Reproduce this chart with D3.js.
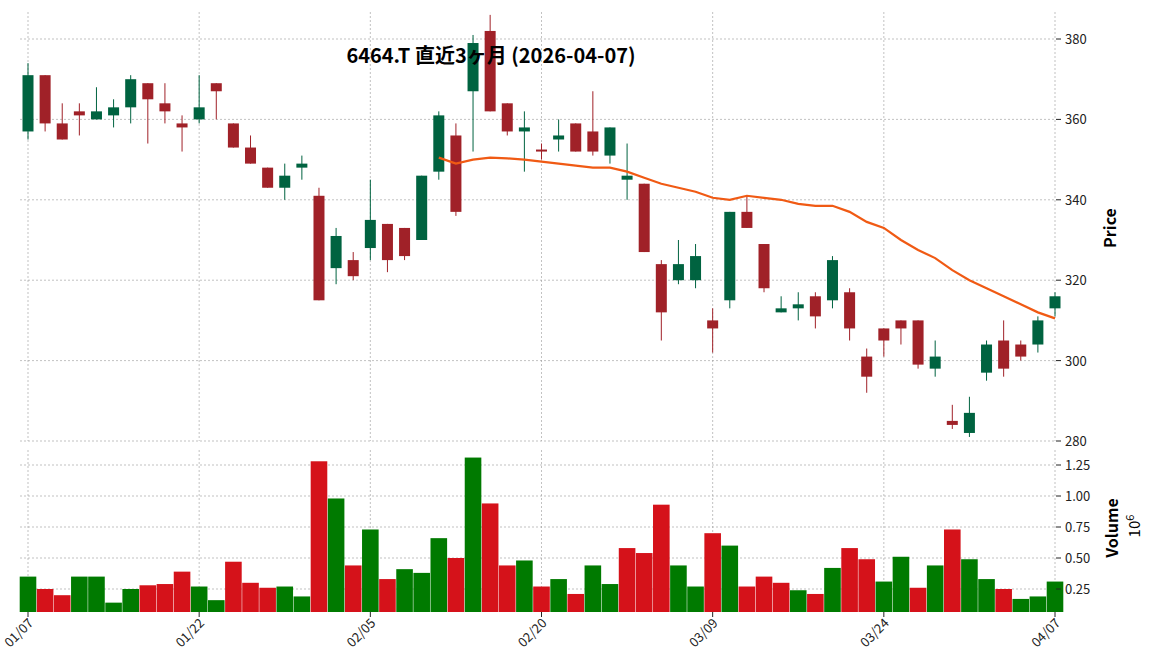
<!DOCTYPE html>
<html><head><meta charset="utf-8">
<script src="https://cdn.jsdelivr.net/npm/d3@7"></script>
<style>body{margin:0;background:#fff}text{font-family:"Noto Sans CJK JP","Noto Sans",sans-serif}</style>
</head><body>
<script>
// trading days 01/07 .. 04/07 (index of each tick label)
var tickIdx = [0, 10, 20, 30, 40, 50, 60];
var tickLabels = ["01/07", "01/22", "02/05", "02/20", "03/09", "03/24", "04/07"];
var opens  = [357,371,359,362,360,361,363,369,364,359,360,369,359,353,348,343,348,341,323,325,328,334,333,330,347,356,367,382,364,357,352.5,355,359,357,351,345,344,324,320,320,310,315,337,329,312,313,316,315,317,301,308,310,310,298,285,282,297,305,304,304,313];
var highs  = [374,371,364,364,368,365,371,369,369,361,371,369,359,356,348,349,351,343,333,327,345,334,333,346,362,359,381,386,364,362,354,360,359,367,358,354,344,325,330,329,313,337,341,329,316,317,317,326,318,303,308,310,310,305,289,291,305,310,305,311,317];
var lows   = [355,357,355,356,360,358,359,354,359,352,359,360,353,349,343,340,345,315,319,320,325,322,325,330,345,336,352,362,356,347,350,352,352,351,349,340,327,305,319,318,302,313,333,317,312,310,308,313,305,292,301,304,298,296,283,281,295,296,300,302,311];
var closes = [371,359,355,361,362,363,370,365,362,358,363,367,353,349,343,346,349,315,331,321,335,325,326,346,361,337,379,362,357,358,352,356,352,352,358,346,327,312,324,326,308,337,333,318,313,314,311,325,308,296,305,308,299,301,284,287,304,298,301,310,316];
var volumes = [0.35,0.25,0.20,0.35,0.35,0.14,0.25,0.28,0.29,0.39,0.27,0.16,0.47,0.30,0.26,0.27,0.19,1.28,0.98,0.44,0.73,0.33,0.41,0.38,0.66,0.50,1.31,0.94,0.44,0.48,0.27,0.33,0.21,0.44,0.29,0.58,0.54,0.93,0.44,0.27,0.70,0.60,0.27,0.35,0.30,0.24,0.21,0.42,0.58,0.49,0.31,0.51,0.26,0.44,0.73,0.49,0.33,0.25,0.17,0.19,0.31];
var maStart = 24;
var ma25 = [350.5,349,350,350.5,350.3,350,349.5,349,348.5,348,348,347,345.5,344,343,342,340.5,340,341,340.5,340,339,338.5,338.5,337,334.5,333,330,327.5,325.5,322.5,320,318,316,314,312,310.5];
var priceTicks = [280,300,320,340,360,380];
var volTicks = [0.25,0.5,0.75,1.0,1.25];

var W = 1156, H = 670;
var svg = d3.select("body").append("svg").attr("width", W).attr("height", H);

var x = d3.scaleLinear().domain([0, 60]).range([28, 1055]);
var y = d3.scaleLinear().domain([280, 380]).range([441, 39]);
var yv = d3.scaleLinear().domain([0, 1.25]).range([620, 465]);
var left = 20, right = 1056, pTop = 12, pBot = 441, vTop = 450, vBot = 612;

var grid = svg.append("g").attr("stroke", "#999").attr("stroke-width", 0.6).attr("stroke-dasharray", "2,2");
tickIdx.forEach(function (t) {
  grid.append("line").attr("x1", x(t)).attr("x2", x(t)).attr("y1", pTop).attr("y2", pBot);
  grid.append("line").attr("x1", x(t)).attr("x2", x(t)).attr("y1", vTop).attr("y2", vBot);
});
priceTicks.forEach(function (p) { grid.append("line").attr("x1", left).attr("x2", right).attr("y1", y(p)).attr("y2", y(p)); });
volTicks.forEach(function (v) { grid.append("line").attr("x1", left).attr("x2", right).attr("y1", yv(v)).attr("y2", yv(v)); });

var up = "#006340", dn = "#a02128";
var idx = d3.range(opens.length);
var cw = 11;
svg.append("g").selectAll("line").data(idx).enter().append("line")
  .attr("x1", function (i) { return x(i); }).attr("x2", function (i) { return x(i); })
  .attr("y1", function (i) { return y(highs[i]); }).attr("y2", function (i) { return y(lows[i]); })
  .attr("stroke", function (i) { return closes[i] >= opens[i] ? up : dn; }).attr("stroke-width", 1);
svg.append("g").selectAll("rect").data(idx).enter().append("rect")
  .attr("x", function (i) { return x(i) - cw / 2; }).attr("width", cw)
  .attr("y", function (i) { return y(Math.max(opens[i], closes[i])); })
  .attr("height", function (i) { return Math.max(1.5, Math.abs(y(opens[i]) - y(closes[i]))); })
  .attr("fill", function (i) { return closes[i] >= opens[i] ? up : dn; });

svg.append("path").datum(ma25).attr("fill", "none").attr("stroke", "#f05a14").attr("stroke-width", 2.2)
  .attr("d", d3.line().x(function (d, i) { return x(i + maStart); }).y(function (d) { return y(d); }));

var bw = 16.6;
svg.append("g").selectAll("rect").data(idx).enter().append("rect")
  .attr("x", function (i) { return x(i) - bw / 2; }).attr("width", bw)
  .attr("y", function (i) { return yv(volumes[i]); })
  .attr("height", function (i) { return vBot - yv(volumes[i]); })
  .attr("fill", function (i) { return (i === 0 || closes[i] >= closes[i - 1]) ? "#007a00" : "#d5121a"; });

// right axes
var ax = svg.append("g").attr("font-size", 13).attr("fill", "#222");
priceTicks.forEach(function (p) {
  ax.append("line").attr("x1", right).attr("x2", right + 5).attr("y1", y(p)).attr("y2", y(p)).attr("stroke", "#222");
  ax.append("text").attr("x", right + 9).attr("y", y(p) + 5).text(p);
});
volTicks.forEach(function (v) {
  ax.append("line").attr("x1", right).attr("x2", right + 5).attr("y1", yv(v)).attr("y2", yv(v)).attr("stroke", "#222");
  ax.append("text").attr("x", right + 9).attr("y", yv(v) + 5).text(v.toFixed(2));
});
tickIdx.forEach(function (t, k) {
  ax.append("line").attr("x1", x(t)).attr("x2", x(t)).attr("y1", vBot).attr("y2", vBot + 5).attr("stroke", "#222");
  ax.append("text").attr("text-anchor", "end")
    .attr("transform", "translate(" + (x(t) + 6) + "," + (vBot + 12) + ") rotate(-45)").text(tickLabels[k]);
});
svg.append("text").attr("transform", "translate(1116,228) rotate(-90)").attr("text-anchor", "middle")
  .attr("font-size", 16).attr("font-weight", "bold").text("Price");
svg.append("text").attr("transform", "translate(1118,528) rotate(-90)").attr("text-anchor", "middle")
  .attr("font-size", 16).attr("font-weight", "bold").text("Volume");
var ex = svg.append("text").attr("transform", "translate(1140,526) rotate(-90)").attr("text-anchor", "middle").attr("font-size", 15);
ex.append("tspan").text("10");
ex.append("tspan").attr("dy", -6).attr("font-size", 11).text("6");

svg.append("text").attr("x", 491).attr("y", 63).attr("text-anchor", "middle")
  .attr("font-size", 20).attr("font-weight", "bold").text("6464.T  直近3ヶ月  (2026-04-07)");
</script>
</body></html>
